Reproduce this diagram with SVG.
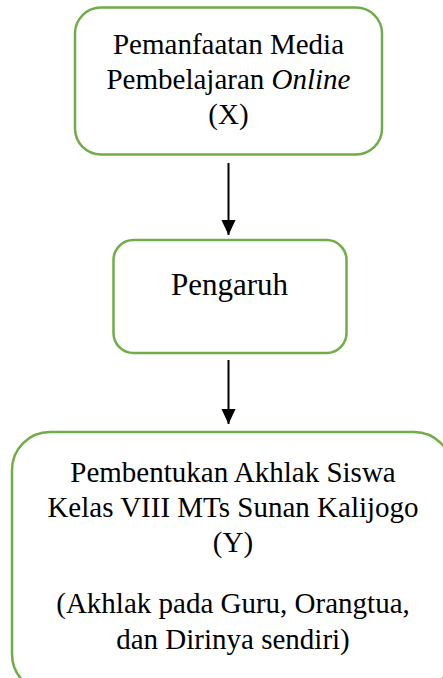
<svg xmlns="http://www.w3.org/2000/svg" width="443" height="678" viewBox="0 0 443 678">
<style>
.box{fill:#fff;stroke:#70AD47;stroke-width:2.5}
.t{font-family:"Liberation Serif","Times New Roman",serif;font-size:29px;fill:#000;text-anchor:middle}
.c{stroke:#000;stroke-width:2;fill:none}
</style>
<defs>
<marker id="ah" markerWidth="15" markerHeight="16" refX="16" refY="7.5" orient="auto" markerUnits="userSpaceOnUse" viewBox="0 0 16 15">
<path d="M0,0 L16,7.5 L0,15 z" fill="#000"/>
</marker>
</defs>
<rect width="443" height="678" fill="#fff"/>
<g id="connectors">
<line class="c" x1="228.5" y1="163" x2="228.5" y2="235" marker-end="url(#ah)"/>
<line class="c" x1="228.5" y1="360" x2="228.5" y2="424" marker-end="url(#ah)"/>
</g>
<g id="node-x">
<rect class="box" x="75" y="7.5" width="307" height="147" rx="26"/>
<text class="t" x="228.5" y="54">Pemanfaatan Media</text>
<text class="t" x="228.5" y="89">Pembelajaran <tspan font-style="italic">Online</tspan></text>
<text class="t" x="228.5" y="124">(X)</text>
</g>
<g id="node-pengaruh">
<rect class="box" x="113.5" y="240" width="233" height="113" rx="20"/>
<text class="t" x="229.5" y="295" style="font-size:31px">Pengaruh</text>
</g>
<g id="node-y">
<rect class="box" x="12" y="432" width="440" height="260" rx="38"/>
<text class="t" x="233" y="482">Pembentukan Akhlak Siswa</text>
<text class="t" x="233" y="517">Kelas VIII MTs Sunan Kalijogo</text>
<text class="t" x="233" y="552">(Y)</text>
<text class="t" x="233" y="613">(Akhlak pada Guru, Orangtua,</text>
<text class="t" x="233" y="649">dan Dirinya sendiri)</text>
</g>
</svg>
